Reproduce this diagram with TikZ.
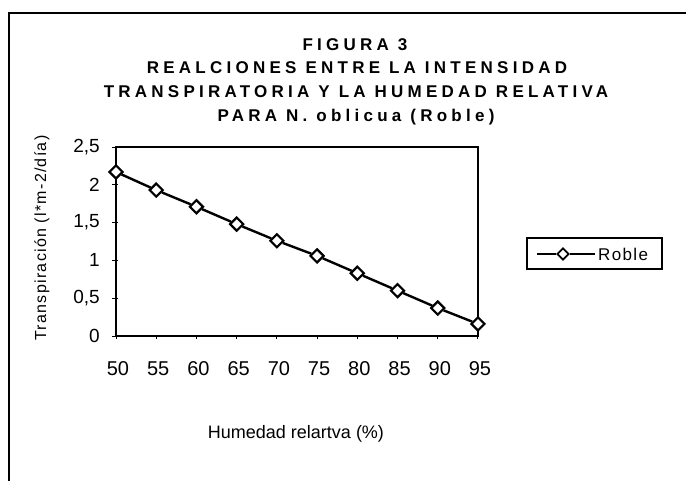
\documentclass[tikz,border=0pt]{standalone}
\usepackage{fontspec}
\setmainfont{Liberation Sans}
\newfontfamily\titlefont[LetterSpace=25]{Liberation Sans}
\newfontfamily\labelfont[LetterSpace=8]{Liberation Sans}
\usetikzlibrary{positioning, shapes.geometric}

\begin{document}
\begin{tikzpicture}[x=1pt, y=-1pt,
        rombo/.style={diamond, draw=black, fill=white, line width=2.2pt, inner sep=0pt, minimum size=14pt},
        serie/.style={line width=2.4pt, black},
        eje/.style={line width=1.6pt},
        titulo/.style={font=\titlefont\bfseries\fontsize{17}{20}\selectfont},
        ylab/.style={anchor=east, inner sep=0pt, font=\fontsize{19}{22}\selectfont},
        xlab/.style={inner sep=0pt, font=\fontsize{20}{24}\selectfont}
    ]
    \useasboundingbox (0,0) rectangle (686,480);
    \clip (0,0) rectangle (686,480);
    % marco exterior (cortado a la derecha y abajo)
    \draw[line width=1.4pt] (9,13) rectangle (700,500);

    % titulo
    \node[titulo] (t1) at (355,45) {FIGURA 3};
    \node[titulo] (t2) at (357,68) {REALCIONES ENTRE LA INTENSIDAD};
    \node[titulo] (t3) at (356,92) {TRANSPIRATORIA Y LA HUMEDAD RELATIVA};
    \node[titulo] (t4) at (356,117) {PARA N. oblicua (Roble)};

    % area del grafico
    \draw[line width=1.2pt] (116,147) rectangle (478,336);
    \draw[eje] (116,147) -- (116,336) -- (478,336);

    % eje y
    \foreach \v/\t [count=\i] in {0/0, 0.5/{0,5}, 1/1, 1.5/{1,5}, 2/2, 2.5/{2,5}} {
        \draw[line width=1pt] (112,{336-\v*75.6}) -- (118,{336-\v*75.6});
        \node[ylab] (y\i) at (100,{336-\v*75.6}) {\t};
    }
    \node[rotate=90, font=\labelfont\fontsize{16}{19}\selectfont] (ytit) at (42,238) {Transpiración (l*m-2/día)};

    % eje x
    \foreach \t [count=\i from 0] in {50,55,...,95} {
        \draw[line width=1pt] ({116+\i*40.22},336) -- ({116+\i*40.22},339);
        \node[xlab] (x\i) at ({118+\i*40.22},369) {\t};
    }
    \node[font=\fontsize{18}{21}\selectfont] (xtit) at (296,434) {Humedad relartva (\%)};

    % serie Roble
    \foreach \v [count=\i from 0] in {2.17,1.93,1.71,1.48,1.26,1.06,0.83,0.60,0.37,0.16}
        \node[rombo] (p\i) at ({116+\i*40.22},{336-\v*75.6}) {};
    \foreach \i [remember=\i as \j (initially 0)] in {1,...,9}
        \draw[serie] (p\j) -- (p\i);

    % leyenda
    \node[draw, line width=1.2pt, minimum width=135pt, minimum height=31pt, inner sep=0pt] (leyenda) at (594.5,253.5) {};
    \coordinate (la) at (537,254);
    \coordinate (lb) at (595,254);
    \node[rombo, minimum size=12pt, line width=1.8pt] (lm) at (563,254) {};
    \draw[line width=1.8pt] (la) -- (lm) -- (lb);
    \node[anchor=west, inner sep=0pt, font=\labelfont\fontsize{17}{20}\selectfont] (lt) at (598,254) {Roble};
\end{tikzpicture}
\end{document}
